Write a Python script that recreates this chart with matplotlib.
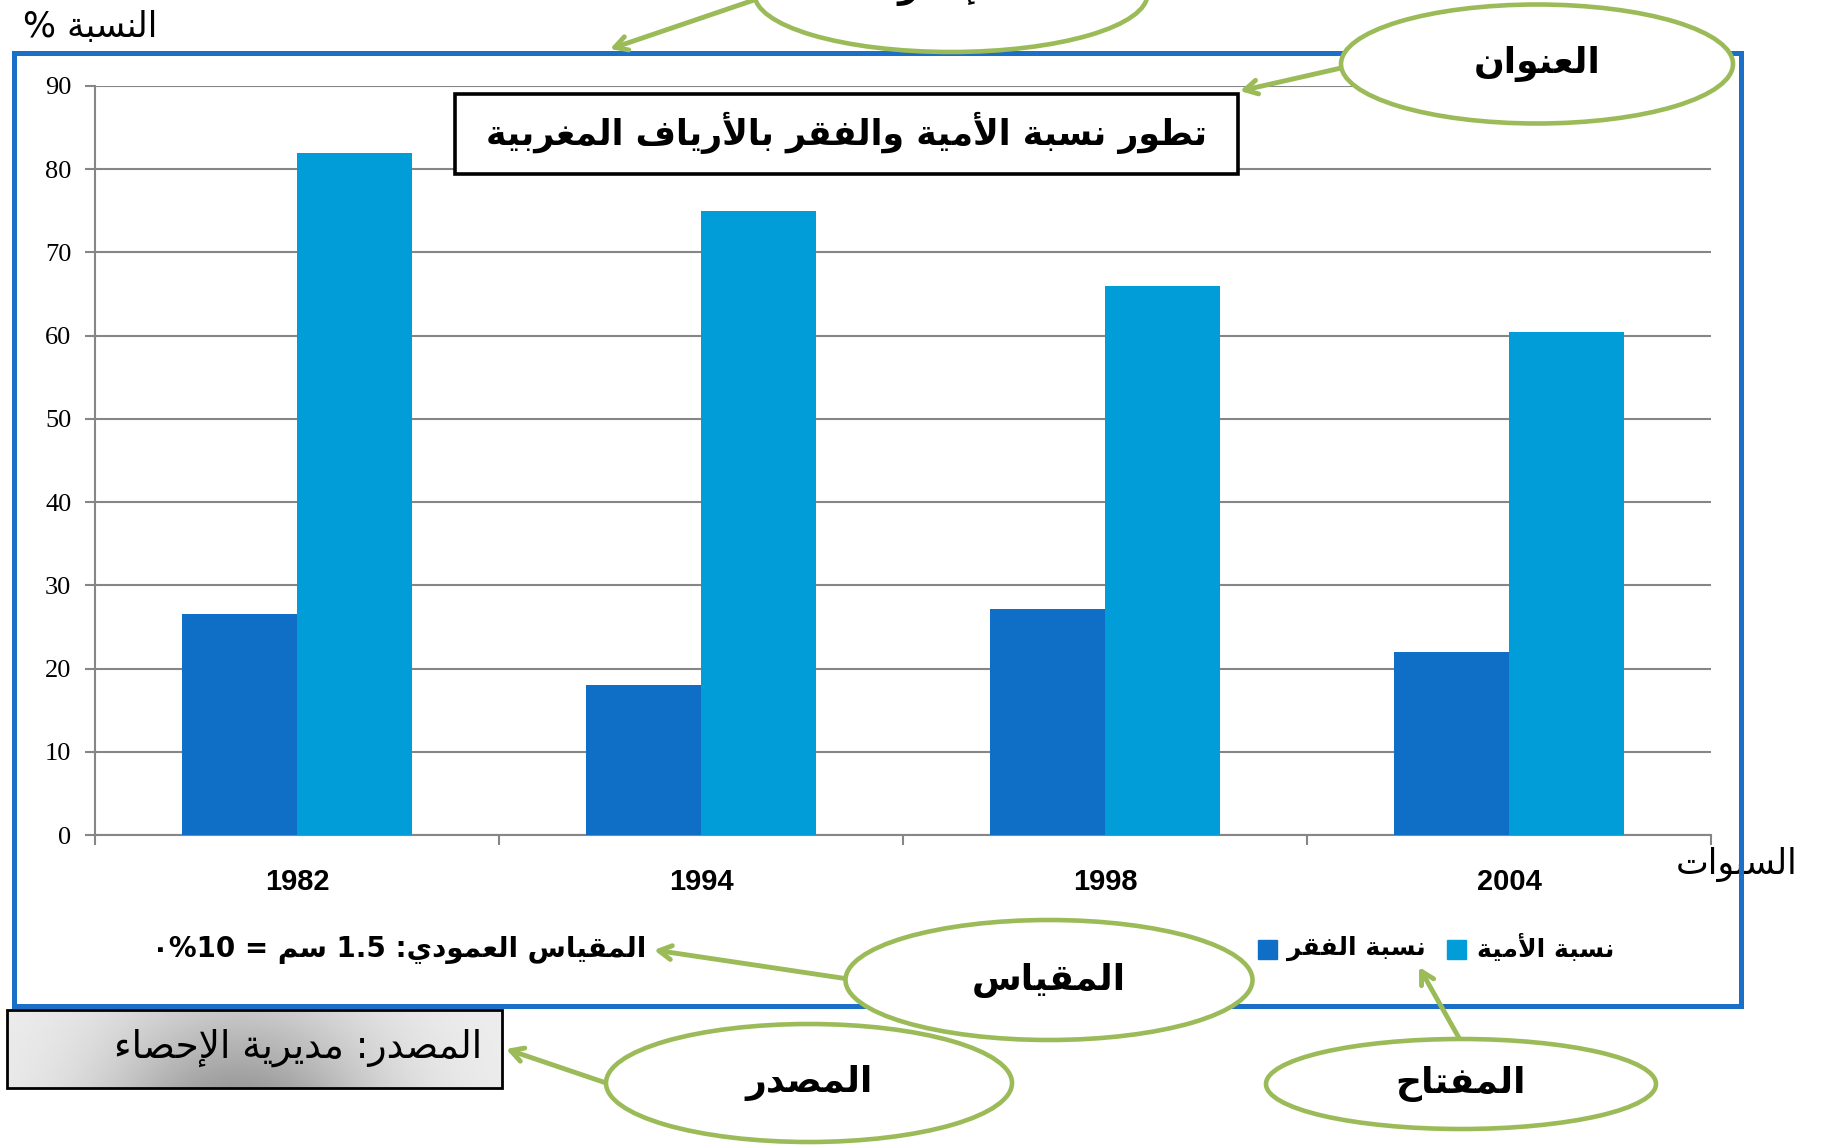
import re
import numpy as np
import matplotlib
matplotlib.use("Agg")
import matplotlib.pyplot as plt
from matplotlib.patches import Ellipse, Rectangle

# data
years = ["1982", "1994", "1998", "2004"]
poverty = [26.5, 18.0, 27.2, 22.0]        # نسبة الفقر
illiteracy = [82.0, 75.0, 66.0, 60.5]     # نسبة الأمية
yticks = [0, 10, 20, 30, 40, 50, 60, 70, 80, 90]

title = "تطور نسبة الأمية والفقر بالأرياف المغربية"
ylab = "النسبة %"
xlab = "السنوات"
legend_labels = ["نسبة الفقر", "نسبة الأمية"]
scale_txt = "المقياس العمودي: 1.5 سم = %10٠"
source_txt = "المصدر: مديرية الإحصاء"
callouts = ["الإطار", "العنوان", "المقياس", "المصدر", "المفتاح"]

# --- tiny arabic shaper (matplotlib has no shaping / bidi) ---
DUAL = {'ب': 0xFE8F, 'ت': 0xFE95, 'ح': 0xFEA1, 'س': 0xFEB1, 'ص': 0xFEB9,
        'ط': 0xFEC1, 'ع': 0xFEC9, 'غ': 0xFECD, 'ف': 0xFED1, 'ق': 0xFED5,
        'ل': 0xFEDD, 'م': 0xFEE1, 'ن': 0xFEE5, 'ي': 0xFEF1}
RIGHT = {'أ': 0xFE83, 'إ': 0xFE87, 'ا': 0xFE8D, 'ة': 0xFE93, 'د': 0xFEA9,
         'ر': 0xFEAD, 'و': 0xFEED}
LAM_ALEF = {'أ': 0xFEF7, 'إ': 0xFEF9, 'ا': 0xFEFB}
NUM = r'%?[0-9]+(?:\.[0-9]+)?%?'


def shape(s):
    units = []
    i = 0
    while i < len(s):
        c = s[i]
        if c == 'ل' and i + 1 < len(s) and s[i + 1] in LAM_ALEF:
            units.append(('R', LAM_ALEF[s[i + 1]], None))
            i += 2
            continue
        if c in DUAL:
            units.append(('D', DUAL[c], None))
        elif c in RIGHT:
            units.append(('R', RIGHT[c], None))
        elif c == 'ء':
            units.append(('N', 0xFE80, None))
        else:
            units.append(('N', None, c))
        i += 1
    out = []
    for k, (kind, base, raw) in enumerate(units):
        if base is None:
            out.append(raw)
            continue
        prev = k > 0 and units[k - 1][0] == 'D' and kind in 'DR'
        nxt = kind == 'D' and k + 1 < len(units) and units[k + 1][0] in 'DR'
        if kind == 'D':
            off = 3 if (prev and nxt) else 2 if nxt else 1 if prev else 0
        elif kind == 'R':
            off = 1 if prev else 0
        else:
            off = 0
        out.append(chr(base + off))
    return ''.join(out)


def ar(s):
    parts = re.split('(' + NUM + ')', shape(s))
    parts = [p if re.fullmatch(NUM, p) else p[::-1] for p in parts if p]
    return ''.join(reversed(parts))


W, H = 1821, 1145
dark, light = '#0F6FC6', '#009DD9'
green = '#9BBB59'
blue = '#1C6FC6'
grey = '#868686'

fig = plt.figure(figsize=(W / 100, H / 100), dpi=100)
fig.patch.set_facecolor('white')

ax = fig.add_axes([95 / W, 1 - 835 / H, (1711 - 95) / W, (835 - 86) / H])
x = np.arange(len(years))
w = 1 / 3.5
ax.bar(x - w / 2, poverty, w, color=dark, zorder=3)
ax.bar(x + w / 2, illiteracy, w, color=light, zorder=3)
ax.set_xlim(-0.5, len(years) - 0.5)
ax.set_ylim(0, 90)
ax.set_yticks(yticks)
ax.set_yticklabels([str(v) for v in yticks], family='Liberation Serif', fontsize=19)
ax.yaxis.grid(True, color=grey, lw=1.5)
ax.set_axisbelow(True)
ax.set_xticks(np.arange(len(years) + 1) - 0.5)
ax.set_xticklabels([])
ax.set_xticks(x, minor=True)
ax.set_xticklabels(years, minor=True, family='Liberation Sans', fontweight='bold', fontsize=21)
ax.tick_params(axis='x', which='minor', length=0, pad=24)
ax.tick_params(axis='x', which='major', length=7, width=1.5, color=grey)
ax.tick_params(axis='y', length=7, width=1.5, color=grey, pad=10)
for s in ['top', 'right']:
    ax.spines[s].set_visible(False)
for s in ['left', 'bottom']:
    ax.spines[s].set_color(grey)
    ax.spines[s].set_linewidth(1.5)

# overlay in pixel coordinates (y down)
ov = fig.add_axes([0, 0, 1, 1], zorder=5)
ov.patch.set_alpha(0)
ov.axis('off')

ov.text(23, 27, ar(ylab), fontsize=25, ha='left', va='center', zorder=2)
ov.text(1737, 864, ar(xlab), fontsize=25, ha='center', va='center', zorder=2)
ov.add_patch(Rectangle((14, 53), 1727, 953, fill=False, ec=blue, lw=3.6, zorder=3))

# title box
ov.add_patch(Rectangle((455, 94), 783, 80, fc='white', ec='black', lw=2.6, zorder=4))
ov.text(846, 133, ar(title), fontsize=25, fontweight='bold', ha='center', va='center', zorder=5)

# legend
ov.add_patch(Rectangle((1447, 940), 19, 19, color=light, zorder=4))
ov.text(1477, 948, ar(legend_labels[1]), fontsize=18, fontweight='bold', ha='left', va='center', zorder=5)
ov.add_patch(Rectangle((1258, 940), 19, 19, color=dark, zorder=4))
ov.text(1287, 948, ar(legend_labels[0]), fontsize=18, fontweight='bold', ha='left', va='center', zorder=5)

# scale
ov.text(646, 950, ar(scale_txt), fontsize=20, fontweight='bold', ha='right', va='center', zorder=5)

# source box with grey gradient
gx = np.linspace(0, 1, 200)
gy = np.linspace(0, 1, 40)
GX, GY = np.meshgrid(gx, gy)
grad = 0.93 - 0.32 * np.exp(-((GX - 0.47) / 0.28) ** 2) * (0.45 + 0.55 * GY)
ov.imshow(grad, extent=(7, 502, 1088, 1010), cmap='gray', vmin=0, vmax=1,
          aspect='auto', zorder=3)
ov.add_patch(Rectangle((7, 1010), 495, 78, fill=False, ec='black', lw=2, zorder=4))
ov.text(482, 1048, ar(source_txt), fontsize=27, ha='right', va='center', zorder=5)

# callouts: (centre, width, height, arrow tail, arrow head)
shapes = [((951, -6), 393, 116, (760, -2), (610, 49)),
          ((1537, 64), 392, 119, (1350, 66), (1240, 91)),
          ((1049, 980), 407, 120, (855, 980), (654, 950)),
          ((809, 1083), 406, 118, (615, 1086), (506, 1049)),
          ((1461, 1084), 390, 90, (1463, 1045), (1419, 967))]
for txt, (c, ew, eh, tail, head) in zip(callouts, shapes):
    ov.annotate('', xy=head, xytext=tail, zorder=6,
                arrowprops=dict(arrowstyle='->,head_length=0.9,head_width=0.5',
                                color=green, lw=3.5, shrinkA=0, shrinkB=0))
    ov.add_patch(Ellipse(c, ew, eh, fc='white', ec=green, lw=3.3, zorder=7))
    ty = c[1] - 6 if c[1] < 0 else c[1]
    ov.text(c[0], ty, ar(txt), fontsize=26, fontweight='bold', ha='center', va='center', zorder=8)

ov.set_xlim(0, W)
ov.set_ylim(H, 0)

fig.savefig('out.png', dpi=100)
